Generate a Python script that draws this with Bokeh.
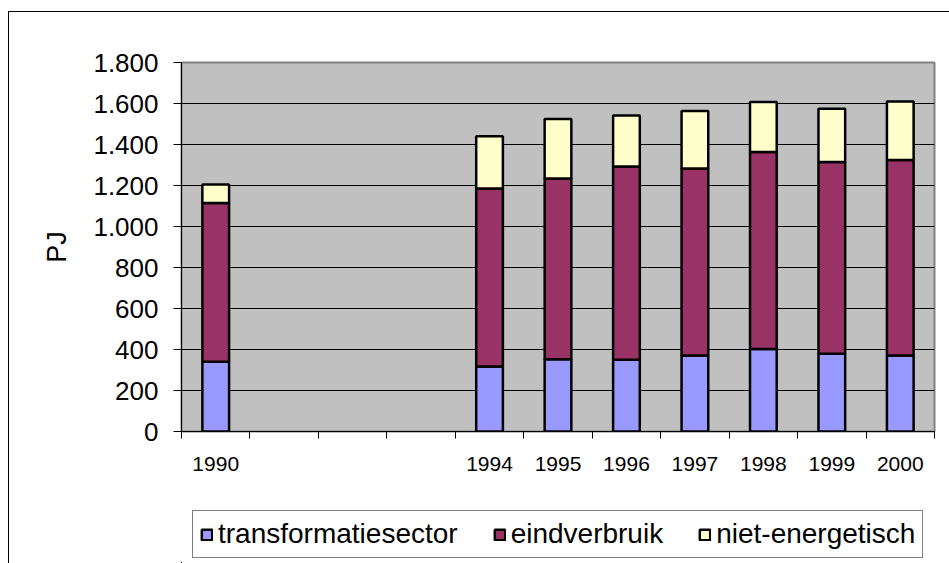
from bokeh.plotting import figure
from bokeh.layouts import column
from bokeh.models import FixedTicker, Legend, LegendItem, ColumnDataSource
from bokeh.embed import file_html
from bokeh.resources import INLINE

# ---- data ----
categories = ["1990", "1991", "1992", "1993", "1994", "1995", "1996", "1997", "1998", "1999", "2000"]
category_labels = ["1990", "", "", "", "1994", "1995", "1996", "1997", "1998", "1999", "2000"]
data_years = ["1990", "1994", "1995", "1996", "1997", "1998", "1999", "2000"]
transformatiesector = [340, 317, 353, 350, 371, 403, 379, 371]
eindverbruik = [775, 868, 881, 943, 912, 960, 936, 954]
niet_energetisch = [90, 255, 291, 248, 280, 244, 259, 285]
y_ticks = [0, 200, 400, 600, 800, 1000, 1200, 1400, 1600, 1800]
y_tick_labels = ["0", "200", "400", "600", "800", "1.000", "1.200", "1.400", "1.600", "1.800"]
series_names = ["transformatiesector", "eindverbruik", "niet-energetisch"]
colors = ["#9999FF", "#993366", "#FFFFCC"]

FONT = "Liberation Sans"

x_pos = [categories.index(y) + 0.5 for y in data_years]
src = ColumnDataSource(dict(x=x_pos, t=transformatiesector, e=eindverbruik, n=niet_energetisch))

# main chart: placed at page (9, 12)
p = figure(width=940, height=488, output_backend="svg", toolbar_location=None,
           x_range=(0, len(categories)), y_range=(0, 1800),
           min_border_left=172, min_border_right=15, min_border_top=50, min_border_bottom=69)

p.background_fill_color = "#C0C0C0"
p.border_fill_color = "white"
p.outline_line_color = "#808080"
p.outline_line_width = 2

renderers = p.vbar_stack(["t", "e", "n"], x="x", width=0.39, source=src,
                         fill_color=colors, line_color="black", line_width=2.5)

# x axis
centers = [i + 0.5 for i in range(len(categories))]
bounds = [float(i) for i in range(len(categories) + 1)]
p.xaxis.ticker = FixedTicker(ticks=centers, minor_ticks=bounds)
p.xaxis.major_label_overrides = {c: lab for c, lab in zip(centers, category_labels)}
p.xaxis.major_tick_out = 0
p.xaxis.major_tick_in = 0
p.xaxis.minor_tick_out = 7
p.xaxis.minor_tick_in = 0
p.xaxis.minor_tick_line_color = "black"
p.xaxis.axis_line_color = "black"
p.xaxis.major_label_text_font = FONT
p.xaxis.major_label_text_font_size = "21px"
p.xaxis.major_label_text_color = "black"
p.xaxis.major_label_standoff = 18
p.xgrid.grid_line_color = None

# y axis
p.yaxis.ticker = FixedTicker(ticks=y_ticks)
p.yaxis.major_label_overrides = {t: lab for t, lab in zip(y_ticks, y_tick_labels)}
p.yaxis.major_tick_out = 8
p.yaxis.major_tick_in = 0
p.yaxis.minor_tick_line_color = None
p.yaxis.axis_line_color = "black"
p.yaxis.major_tick_line_color = "black"
p.yaxis.major_label_text_font = FONT
p.yaxis.major_label_text_font_size = "26px"
p.yaxis.major_label_text_color = "black"
p.yaxis.major_label_standoff = 15
p.yaxis.axis_label = "PJ"
p.yaxis.axis_label_text_font = FONT
p.yaxis.axis_label_text_font_size = "27px"
p.yaxis.axis_label_text_font_style = "normal"
p.yaxis.axis_label_text_color = "black"
p.yaxis.axis_label_standoff = 18
p.ygrid.grid_line_color = "black"
p.ygrid.grid_line_width = 1

# legend strip below the chart (its frame is aligned with the chart's frame)
pl = figure(width=940, height=63, output_backend="svg", toolbar_location=None,
            x_range=(100, 101), y_range=(5000, 5001), x_axis_location=None, y_axis_location=None,
            min_border_left=0, min_border_right=0, min_border_top=0, min_border_bottom=0)
pl.outline_line_color = None
pl.outline_line_alpha = 0
pl.grid.grid_line_color = None
pl.background_fill_color = "white"
pl.border_fill_color = "white"
# same bars, far outside this strip's visible range: only their legend glyphs are shown
leg_renderers = pl.vbar_stack(["t", "e", "n"], x="x", width=0.39, source=src,
                              fill_color=colors, line_color="black", line_width=2.5)
items = [LegendItem(label=name, renderers=[r]) for name, r in zip(series_names, leg_renderers)]
legend = Legend(items=items, orientation="horizontal", location=(11, 5),
                label_text_font=FONT, label_text_font_size="28px", label_text_color="black",
                glyph_width=13, glyph_height=13, label_standoff=5, spacing=35, padding=7,
                margin=0, border_line_color="black", border_line_width=1,
                background_fill_color="white", background_fill_alpha=1)
pl.add_layout(legend)

layout = column(p, pl, spacing=0,
                styles={"border-left": "1px solid black", "border-top": "1px solid black",
                        "margin-left": "8px", "margin-top": "11px"})

open("out.html", "w").write(file_html(layout, INLINE))
